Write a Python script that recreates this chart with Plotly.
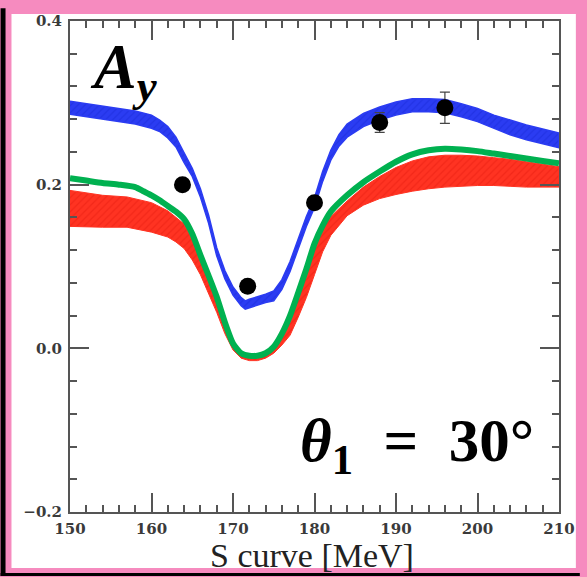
import plotly.graph_objects as go

# ---------------- data ----------------
blue_S = [150, 152, 154, 156, 158, 160, 161, 162, 163, 164, 165, 166, 167, 168, 169, 170, 171, 171.5,
          172, 173, 174, 175, 176, 177, 178, 179, 180, 181, 182, 183, 184, 186, 188, 190, 192, 194,
          196, 198, 200, 202, 204, 206, 208, 210]
blue_hi = [0.302, 0.299, 0.296, 0.293, 0.290, 0.285, 0.279, 0.271, 0.258, 0.239, 0.220, 0.195, 0.163,
           0.123, 0.095, 0.075, 0.062, 0.058, 0.060, 0.063, 0.066, 0.070, 0.084, 0.106, 0.133, 0.161,
           0.184, 0.216, 0.242, 0.261, 0.274, 0.287, 0.295, 0.301, 0.305, 0.305, 0.304, 0.299, 0.293,
           0.285, 0.279, 0.273, 0.268, 0.263]
blue_lo = [0.286, 0.283, 0.280, 0.277, 0.274, 0.269, 0.265, 0.257, 0.246, 0.227, 0.210, 0.185, 0.153,
           0.113, 0.085, 0.065, 0.052, 0.048, 0.050, 0.053, 0.056, 0.058, 0.072, 0.094, 0.121, 0.149,
           0.172, 0.204, 0.230, 0.247, 0.258, 0.271, 0.279, 0.285, 0.289, 0.289, 0.288, 0.283, 0.277,
           0.269, 0.261, 0.255, 0.250, 0.245]

red_S = [150, 154, 157, 160, 162, 163, 164, 165, 166, 167, 168, 169, 170, 171, 172, 173, 174, 175,
         176, 177, 178, 179, 180, 181, 182, 184, 186, 188, 190, 192, 194, 196, 198, 200, 202, 204,
         206, 208, 210]
red_hi = [0.193, 0.187, 0.185, 0.178, 0.168, 0.160, 0.152, 0.134, 0.108, 0.083, 0.058, 0.027, 0.002,
          -0.009, -0.012, -0.012, -0.009, -0.002, 0.013, 0.035, 0.063, 0.091, 0.124, 0.146, 0.161,
          0.180, 0.197, 0.210, 0.221, 0.229, 0.234, 0.236, 0.236, 0.235, 0.233, 0.231, 0.228, 0.225,
          0.222]
red_lo = [0.149, 0.148, 0.148, 0.142, 0.136, 0.130, 0.122, 0.108, 0.090, 0.068, 0.044, 0.018, -0.002,
          -0.012, -0.015, -0.015, -0.012, -0.006, 0.004, 0.016, 0.038, 0.062, 0.090, 0.118, 0.138,
          0.162, 0.175, 0.183, 0.188, 0.192, 0.195, 0.197, 0.198, 0.199, 0.199, 0.198, 0.197, 0.197,
          0.197]

green_S = [150, 152, 154, 156, 158, 159, 160, 161, 162, 163, 164, 165, 166, 167, 168, 169, 170, 171,
           172, 173, 174, 175, 176, 177, 178, 179, 180, 181, 182, 184, 186, 188, 190, 192, 194, 196,
           198, 200, 202, 204, 206, 208, 210]
green_A = [0.208, 0.205, 0.202, 0.200, 0.197, 0.192, 0.187, 0.181, 0.174, 0.167, 0.158, 0.140, 0.114,
           0.089, 0.063, 0.032, 0.006, -0.006, -0.009, -0.009, -0.006, 0.002, 0.018, 0.040, 0.068,
           0.097, 0.128, 0.150, 0.167, 0.187, 0.203, 0.216, 0.228, 0.237, 0.242, 0.244, 0.243, 0.241,
           0.238, 0.235, 0.232, 0.229, 0.226]

data_S = [163.8, 171.8, 180.0, 188.0, 196.0]
data_A = [0.200, 0.076, 0.178, 0.276, 0.294]
data_err = [0.006, 0.006, 0.006, 0.012, 0.019]

x_ticks = [150, 160, 170, 180, 190, 200, 210]
y_ticks = [-0.2, 0.0, 0.2, 0.4]

PINK = "#f68bbf"
RED = "#ff3322"
BLUE = "#2b3cf2"
GREEN = "#00b150"

# ---------------- figure ----------------
fig = go.Figure()

fig.add_trace(go.Scatter(
    x=red_S + red_S[::-1], y=red_hi + red_lo[::-1], fill="toself", mode="lines",
    line=dict(color=RED, width=1), fillcolor=RED,
    fillpattern=dict(shape="/", fgcolor="#e81d10", bgcolor=RED, size=5, solidity=0.25),
    hoverinfo="skip", showlegend=False))

fig.add_trace(go.Scatter(
    x=blue_S + blue_S[::-1], y=blue_hi + blue_lo[::-1], fill="toself", mode="lines",
    line=dict(color=BLUE, width=1.5), fillcolor=BLUE,
    fillpattern=dict(shape="/", fgcolor="#1a2ad8", bgcolor=BLUE, size=5, solidity=0.25),
    hoverinfo="skip", showlegend=False))

fig.add_trace(go.Scatter(
    x=green_S, y=green_A, mode="lines", line=dict(color=GREEN, width=6, shape="spline", smoothing=0.6),
    showlegend=False))

fig.add_trace(go.Scatter(
    x=data_S, y=data_A, mode="markers",
    marker=dict(color="black", size=17),
    error_y=dict(type="data", array=data_err, color="#444", thickness=1.2, width=5),
    showlegend=False))

# frame shapes (paper coords relative to plot area)
L, R, T, B = 70, 24, 13, 65
W, H = 587, 577
pw, ph = W - L - R, H - T - B


def px(xp):
    return (xp - L) / pw


def py(yp):
    return (H - B - yp) / ph


NOLINE = dict(width=0, color="rgba(0,0,0,0)")
fig.add_shape(type="rect", xref="paper", yref="paper", x0=px(11), x1=px(580), y0=py(569), y1=py(6),
              fillcolor="white", line=NOLINE, layer="below")
fig.add_shape(type="rect", xref="paper", yref="paper", x0=px(0), x1=px(5), y0=py(577), y1=py(0),
              fillcolor="black", line=NOLINE, layer="above")
fig.add_shape(type="rect", xref="paper", yref="paper", x0=px(0), x1=px(584), y0=py(577), y1=py(574),
              fillcolor="black", line=NOLINE, layer="above")

fig.add_annotation(text="<b><i>A</i></b><sub><b><i>y</i></b></sub>", xref="paper", yref="paper",
                   x=px(88), y=py(64), xanchor="left", yanchor="middle", showarrow=False,
                   font=dict(family="Liberation Serif", size=64, color="black"))
fig.add_annotation(text="<b><i>θ</i><sub>1</sub>&nbsp; =&nbsp; 30°</b>", xref="paper", yref="paper",
                   x=px(420), y=py(444), xanchor="center", yanchor="middle", showarrow=False,
                   font=dict(family="Liberation Serif", size=61, color="black"))
fig.add_annotation(text="S curve [MeV]", xref="paper", yref="paper",
                   x=px(314), y=py(556), xanchor="center", yanchor="middle", showarrow=False,
                   font=dict(family="Liberation Serif", size=34, color="#222"))

axis_common = dict(showline=True, linewidth=2, linecolor="#555", mirror="ticks", ticks="inside",
                   tickcolor="#555", tickwidth=2, ticklen=19, showgrid=False, zeroline=False,
                   tickfont=dict(family="DejaVu Serif", size=15, color="#3a3a3a", weight="bold"))

fig.update_xaxes(range=[150, 210], tickvals=x_ticks,
                 minor=dict(ticks="inside", dtick=2, ticklen=7, tickcolor="#555", tickwidth=2),
                 ticklabelstandoff=2, **axis_common)
fig.update_yaxes(range=[-0.2, 0.4], tickvals=y_ticks, tickformat=".1f",
                 minor=dict(ticks="inside", dtick=0.04, tick0=-0.2, ticklen=7, tickcolor="#555",
                            tickwidth=2),
                 ticklabelstandoff=3, **axis_common)

fig.update_layout(width=W, height=H, margin=dict(l=L, r=R, t=T, b=B),
                  paper_bgcolor=PINK, plot_bgcolor="white", showlegend=False)

fig.write_html("out.html", config={"displayModeBar": False},
               post_script="document.body.style.margin='0px';document.body.style.overflow='hidden';")
